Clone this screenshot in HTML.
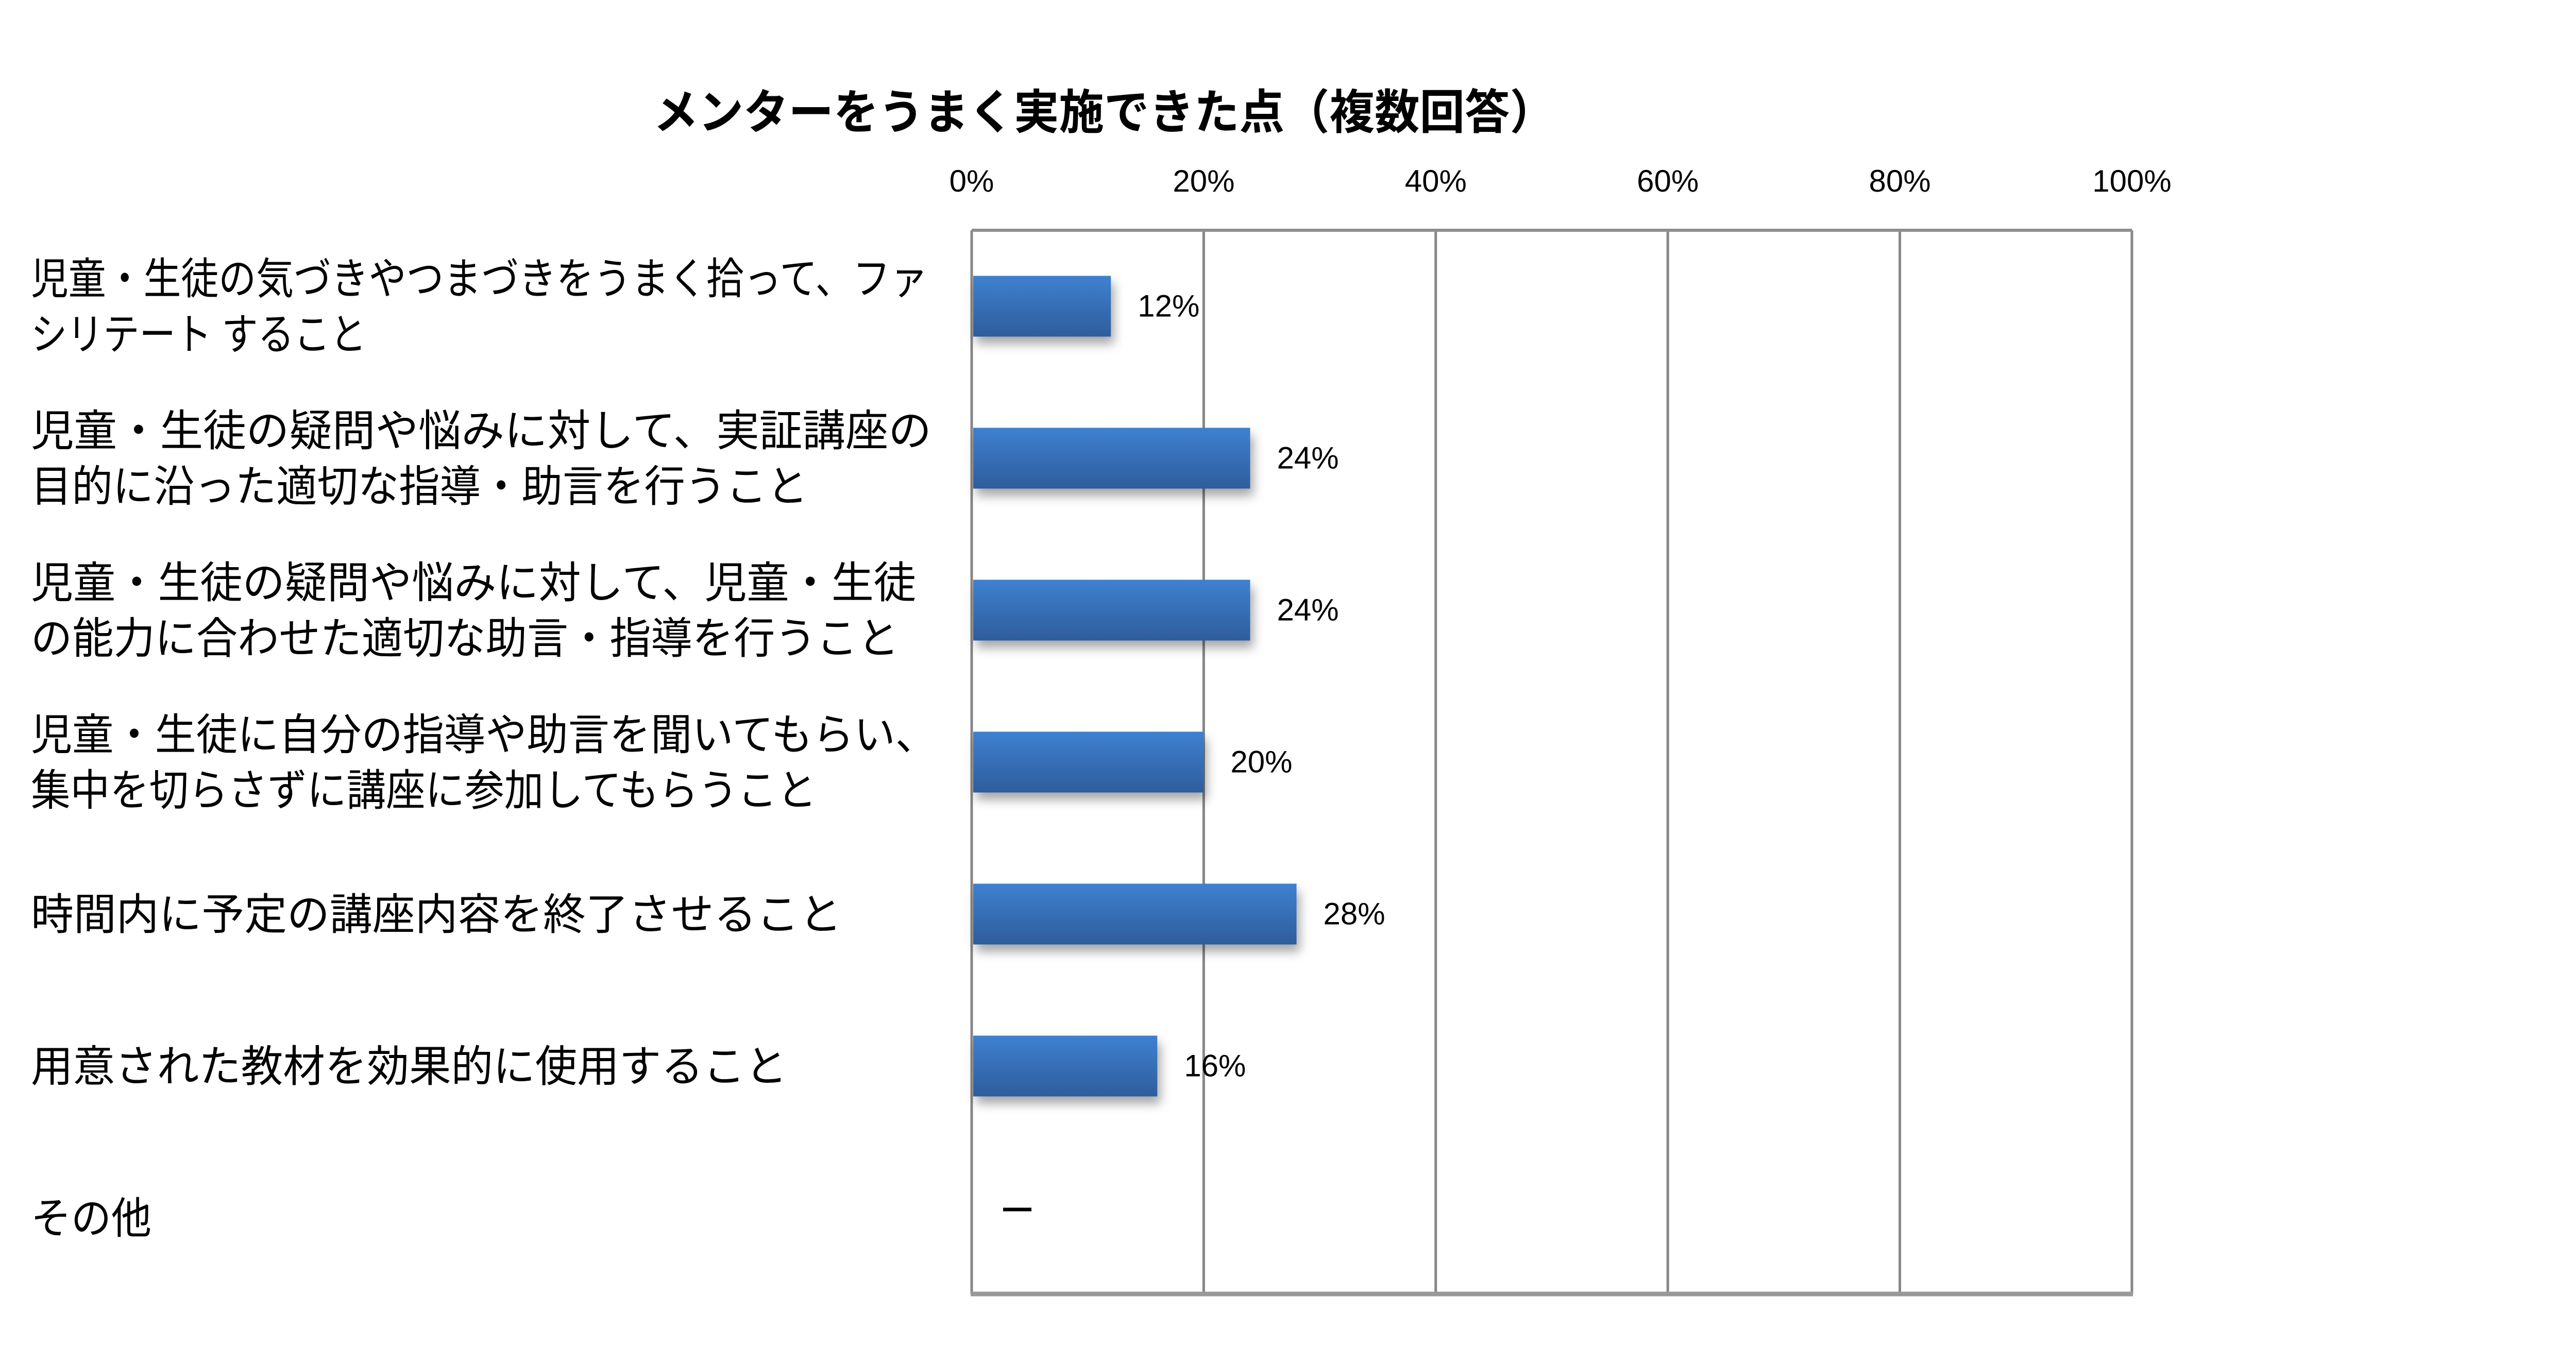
<!DOCTYPE html>
<html><head><meta charset="utf-8"><style>
html,body{margin:0;padding:0;background:#fff;}
svg{display:block;}
text{font-family:"Liberation Sans","Noto Sans CJK JP",sans-serif;}
</style></head><body>
<svg id="chart" width="5178" height="2613" viewBox="0 0 5178 2613" xmlns="http://www.w3.org/2000/svg">
<defs>
<linearGradient id="bg" x1="0" y1="0" x2="0" y2="1"><stop offset="0" stop-color="#3f80d0"/><stop offset="1" stop-color="#2e5d9c"/></linearGradient>
<filter id="sh" x="-10%" y="-20%" width="130%" height="160%"><feDropShadow dx="6" dy="14" stdDeviation="10" flood-color="#000" flood-opacity="0.35"/></filter>
</defs>
<text x="2143" y="250" text-anchor="middle" font-size="92" font-weight="bold" textLength="1750" lengthAdjust="spacingAndGlyphs">メンターをうまく実施できた点（複数回答）</text>
<g id="grid"></g><g id="ticks"></g><g id="bars"></g><g id="labels"></g>
</svg>
<script>
const categories = [
 ["児童・生徒の気づきやつまづきをうまく拾って、ファ","シリテート すること"],
 ["児童・生徒の疑問や悩みに対して、実証講座の","目的に沿った適切な指導・助言を行うこと"],
 ["児童・生徒の疑問や悩みに対して、児童・生徒","の能力に合わせた適切な助言・指導を行うこと"],
 ["児童・生徒に自分の指導や助言を聞いてもらい、","集中を切らさずに講座に参加してもらうこと"],
 ["時間内に予定の講座内容を終了させること"],
 ["用意された教材を効果的に使用すること"],
 ["その他"]
];
const values = [12, 24, 24, 20, 28, 16, null];
const valueLabels = ["12%","24%","24%","20%","28%","16%","－"];
const tickValues = [0,20,40,60,80,100];
const tickLabels = ["0%","20%","40%","60%","80%","100%"];
const labelWidths = [[1741,651],[1748,1508],[1718,1685],[1758,1525],[1574],[1468],[234]];

const NS="http://www.w3.org/2000/svg";
const X0=1886, X1=4138, TOP=447, BOT=2512;
const band=(BOT-TOP)/categories.length;
const xs=v=>X0+(X1-X0)*v/100;
const yc=i=>TOP+band*(i+0.5);
function mk(tag,attrs,parent){const e=document.createElementNS(NS,tag);for(const k in attrs)e.setAttribute(k,attrs[k]);parent.appendChild(e);return e;}
const gridG=document.getElementById('grid'),ticksG=document.getElementById('ticks'),barsG=document.getElementById('bars'),labelsG=document.getElementById('labels');

tickValues.forEach((t,i)=>{
 const l=mk('line',{x1:xs(t),x2:xs(t),y1:TOP,y2:BOT,stroke:'#878787','stroke-width':5},gridG);
 
 
 const tx=mk('text',{x:xs(t),y:372,'text-anchor':'middle','font-size':60},ticksG);
 tx.textContent=tickLabels[i];
 
 
});
const topBorder=mk('line',{x1:X0,x2:X1,y1:TOP,y2:TOP,stroke:'#8e8e8e','stroke-width':6},gridG);


const bottomBorder=mk('line',{x1:X0-2,x2:X1+2,y1:BOT,y2:BOT,stroke:'#999','stroke-width':9},gridG);



const BH=118;
categories.forEach((lines,i)=>{
 const c=yc(i);
 if(values[i]!=null){
  const r=mk('rect',{x:X0+3,y:c-BH/2,width:xs(values[i])-X0-3,height:BH,fill:'url(#bg)',filter:'url(#sh)'},barsG);
  
  
  const v=mk('text',{x:xs(values[i])+52,y:c+20,'font-size':60},labelsG);
  v.textContent=valueLabels[i];
  
  
 } else {
  const d=mk('rect',{x:1947,y:c-20,width:55,height:7,fill:'#000'},labelsG);
  
  
 }
 const lh=108;
 const start=c-(lines.length-1)*lh/2;
 lines.forEach((s,j)=>{
  const t=mk('text',{x:60,y:start+j*lh+30,'font-size':84,textLength:labelWidths[i][j],lengthAdjust:'spacingAndGlyphs'},labelsG);
  t.textContent=s;
  
  
 });
});
</script>
</body></html>
